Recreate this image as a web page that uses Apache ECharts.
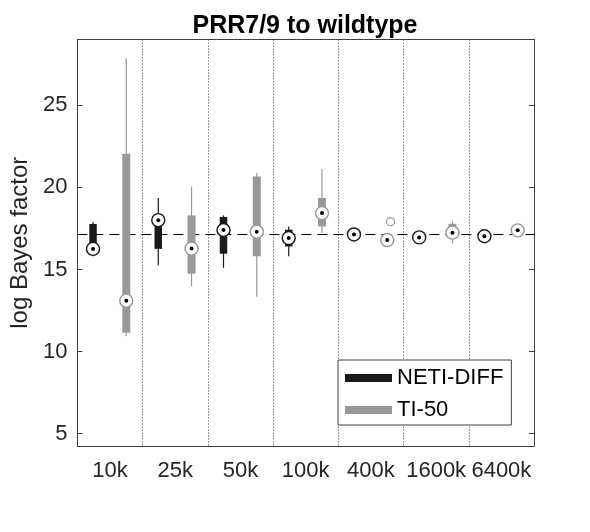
<!DOCTYPE html>
<html>
<head>
<meta charset="utf-8">
<script src="https://cdn.jsdelivr.net/npm/echarts@6/dist/echarts.min.js"></script>
<style>
  html, body { margin: 0; padding: 0; background: #fff; }
  #view { width: 590px; height: 532px; }
</style>
</head>
<body>
<div id="view"></div>
<script>
// sample sizes on the x axis
let categories = ["10k", "25k", "50k", "100k", "400k", "1600k", "6400k"];

// [min, q1, median, q3, max] per category
let netiDiff = [
  [15.8, 16.3, 16.25, 17.77, 17.89],
  [15.25, 16.25, 18.0, 18.2, 19.35],
  [15.1, 15.96, 17.4, 18.19, 18.29],
  [15.8, 16.4, 16.91, 17.42, 17.62],
  [17.0, 17.05, 17.13, 17.2, 17.25],
  [16.85, 16.9, 16.95, 17.0, 17.05],
  [16.95, 16.98, 17.02, 17.06, 17.1],
];
let ti50 = [
  [10.93, 11.14, 13.1, 22.04, 27.86],
  [13.97, 14.74, 16.27, 18.29, 20.05],
  [13.33, 15.8, 17.3, 20.66, 20.87],
  [17.22, 17.62, 18.43, 19.35, 21.11],
  [16.7, 16.75, 16.79, 16.85, 16.9],
  [16.6, 17.1, 17.24, 17.78, 17.92],
  [17.25, 17.3, 17.38, 17.45, 17.65],
];
// [category index, value]
let ti50Outliers = [[4, 17.9]];
let refLine = 17.16;

let font = "Liberation Sans";
let axisColor = "#404040";
let black = "#1a1a1a";
let gray = "#999999";

function boxRenderer(offset, boxW, color) {
  return function (params, api) {
    let cat = api.value(0);
    let band = api.size([1, 0])[0];
    let cx = api.coord([cat, 0])[0] + offset * band;
    let y = [1, 2, 3, 4, 5].map((i) => api.coord([cat, api.value(i)])[1]);
    return {
      type: "group",
      children: [
        {
          type: "line",
          shape: { x1: cx, y1: y[4], x2: cx, y2: y[0] },
          style: { stroke: color, lineWidth: 1.2 },
        },
        {
          type: "rect",
          shape: { x: cx - boxW / 2, y: y[3], width: boxW, height: y[1] - y[3] },
          style: { fill: color },
        },
        {
          type: "circle",
          shape: { cx: cx, cy: y[2], r: 6.5 },
          style: { fill: "#fff", stroke: color, lineWidth: 1.4 },
        },
        {
          type: "circle",
          shape: { cx: cx, cy: y[2], r: 2 },
          style: { fill: "#000" },
        },
      ],
    };
  };
}

function outlierRenderer(offset, color) {
  return function (params, api) {
    let cat = api.value(0);
    let band = api.size([1, 0])[0];
    let p = api.coord([cat, api.value(1)]);
    return {
      type: "circle",
      shape: { cx: p[0] + offset * band, cy: p[1], r: 4 },
      style: { fill: "none", stroke: color, lineWidth: 1.2 },
    };
  };
}

let chart = echarts.init(document.getElementById("view"));

let option = {
  backgroundColor: "#fff",
  animation: false,
  title: {
    text: "PRR7/9 to wildtype",
    left: 300,
    textAlign: "center",
    top: 9,
    textStyle: { fontFamily: font, fontSize: 25, fontWeight: "bold", color: "#000" },
  },
  legend: {
    data: ["NETI-DIFF", "TI-50"],
    orient: "vertical",
    left: 338,
    top: 360,
    icon: "rect",
    itemWidth: 47,
    itemHeight: 8,
    itemGap: 10,
    padding: [7, 8, 4, 7],
    backgroundColor: "#fff",
    borderColor: axisColor,
    borderWidth: 1,
    selectedMode: false,
    textStyle: { fontFamily: font, fontSize: 22, color: "#000" },
  },
  grid: { left: 77, right: 56, top: 39.5, bottom: 86 },
  xAxis: [
    {
      type: "category",
      data: categories,
      position: "bottom",
      boundaryGap: true,
      axisLine: { lineStyle: { color: axisColor } },
      axisTick: { inside: true, alignWithLabel: true, length: 5, interval: 0, lineStyle: { color: axisColor } },
      axisLabel: { interval: 0, margin: 14, fontFamily: font, fontSize: 22, color: "#262626" },
      splitLine: { show: true, interval: 0, lineStyle: { type: [1, 2], color: "#333", width: 1 } },
    },
    {
      type: "category",
      data: categories,
      position: "top",
      boundaryGap: true,
      axisLine: { lineStyle: { color: axisColor } },
      axisTick: { inside: true, alignWithLabel: true, length: 5, interval: 0, lineStyle: { color: axisColor } },
      axisLabel: { show: false },
      splitLine: { show: false },
    },
  ],
  yAxis: [
    {
      type: "value",
      min: 4.25,
      max: 29,
      minInterval: 5,
      maxInterval: 5,
      name: "log Bayes factor",
      nameLocation: "middle",
      nameGap: 42,
      nameTextStyle: { fontFamily: font, fontSize: 24, color: "#262626" },
      axisLine: { show: true, lineStyle: { color: axisColor } },
      axisTick: { show: true, inside: true, length: 5, lineStyle: { color: axisColor } },
      axisLabel: {
        margin: 10,
        fontFamily: font,
        fontSize: 22,
        color: "#262626",
        formatter: (v) => (v % 5 === 0 ? String(v) : ""),
      },
      splitLine: { show: false },
    },
    {
      type: "value",
      min: 4.25,
      max: 29,
      minInterval: 5,
      maxInterval: 5,
      position: "right",
      axisLine: { show: true, lineStyle: { color: axisColor } },
      axisTick: { show: true, inside: true, length: 5, lineStyle: { color: axisColor } },
      axisLabel: { show: false },
      splitLine: { show: false },
    },
  ],
  series: [
    {
      name: "NETI-DIFF",
      type: "custom",
      z: 3,
      itemStyle: { color: black },
      renderItem: boxRenderer(-0.26, 7.5, black),
      encode: { x: 0, y: [1, 2, 3, 4, 5] },
      data: netiDiff.map((d, i) => [i].concat(d)),
      markLine: {
        silent: true,
        z: 1,
        symbol: "none",
        label: { show: false },
        lineStyle: { type: [10, 6], color: "#000", width: 1 },
        data: [{ yAxis: refLine }],
      },
    },
    {
      name: "TI-50",
      type: "custom",
      z: 3,
      itemStyle: { color: gray },
      renderItem: boxRenderer(0.25, 8, gray),
      encode: { x: 0, y: [1, 2, 3, 4, 5] },
      data: ti50.map((d, i) => [i].concat(d)),
    },
    {
      name: "TI-50 outliers",
      type: "custom",
      z: 3,
      renderItem: outlierRenderer(0.3, gray),
      encode: { x: 0, y: 1 },
      data: ti50Outliers,
    },
  ],
};
chart.setOption(option);
</script>
</body>
</html>
